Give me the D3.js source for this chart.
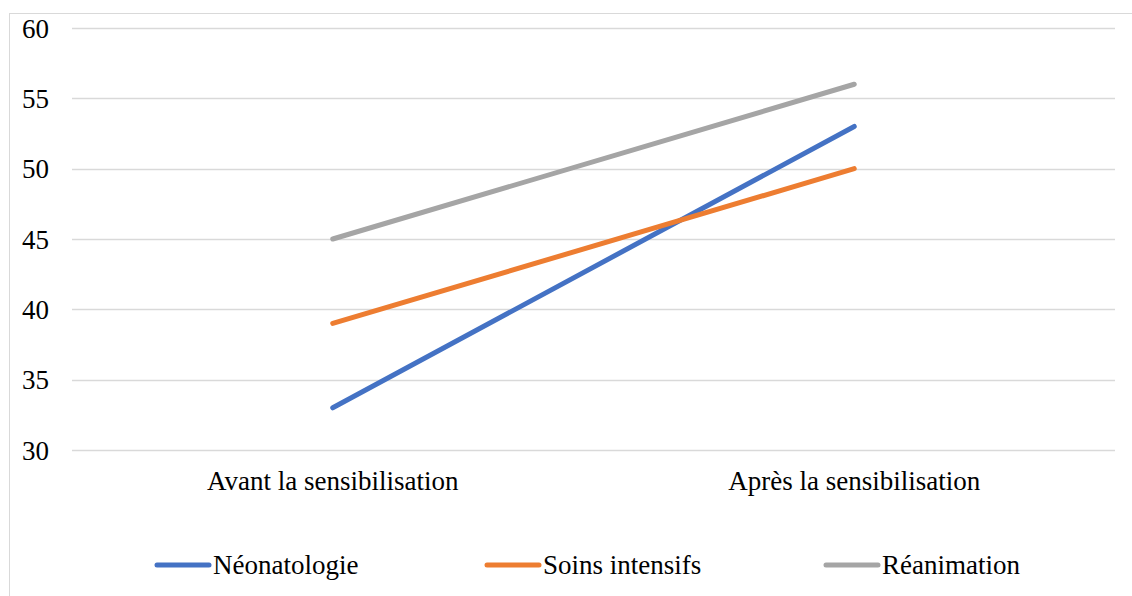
<!DOCTYPE html>
<html><head><meta charset="utf-8">
<script src="https://cdn.jsdelivr.net/npm/d3@7"></script>
<style>body{margin:0;background:#fff}svg{display:block}
svg text{font-family:"Liberation Serif","Times New Roman",serif;font-size:27px;fill:#000}</style>
</head><body>
<svg id="c" width="1132" height="596"></svg>
<script>
const categories = ["Avant la sensibilisation", "Après la sensibilisation"];
const seriesNames = ["Néonatologie", "Soins intensifs", "Réanimation"];
const neonatologie = [33, 53];
const soinsIntensifs = [39, 50];
const reanimation = [45, 56];
const yTicks = [30, 35, 40, 45, 50, 55, 60];
const colors = ["#4472C4", "#ED7D31", "#A5A5A5"];

const series = [neonatologie, soinsIntensifs, reanimation].map((v, i) => ({name: seriesNames[i], values: v, color: colors[i]}));

const svg = d3.select("#c");
svg.append("rect").attr("x", 9.5).attr("y", 13.5).attr("width", 1140).attr("height", 600)
  .attr("fill", "none").attr("stroke", "#d9d9d9").attr("stroke-width", 1);

const left = 72, right = 1115;
const x = d3.scaleBand().domain(categories).range([left, right]);
const y = d3.scaleLinear().domain([30, 60]).range([450, 28]);

const grid = svg.append("g");
grid.selectAll("line").data(yTicks).join("line")
  .attr("x1", left).attr("x2", right)
  .attr("y1", d => Math.round(y(d)) + 0.5).attr("y2", d => Math.round(y(d)) + 0.5)
  .attr("stroke", "#d9d9d9").attr("stroke-width", 1.5);

const yAxis = d3.axisLeft(y).tickValues(yTicks).tickSize(0).tickPadding(0);
const ya = svg.append("g").attr("transform", `translate(49,0)`).call(yAxis);
ya.select(".domain").remove();
ya.attr("font-family", null).attr("font-size", null);
ya.selectAll("text").attr("dy", "0.34em");

const xAxis = d3.axisBottom(x).tickSize(0).tickPadding(0);
const xa = svg.append("g").attr("transform", `translate(0,0)`).call(xAxis);
xa.select(".domain").remove();
xa.attr("font-family", null).attr("font-size", null);
xa.selectAll("text").attr("dy", null).attr("y", 490);

const line = d3.line().x((d, i) => x(categories[i]) + x.bandwidth() / 2).y(d => y(d));
svg.append("g").selectAll("path").data(series).join("path")
  .attr("d", d => line(d.values))
  .attr("fill", "none").attr("stroke", d => d.color).attr("stroke-width", 5)
  .attr("stroke-linecap", "round");

const legendX = [157, 487, 826];
const lg = svg.append("g").selectAll("g").data(series).join("g")
  .attr("transform", (d, i) => `translate(${legendX[i]},565)`);
lg.append("line").attr("x1", 0).attr("x2", 52).attr("y1", 0).attr("y2", 0)
  .attr("stroke", d => d.color).attr("stroke-width", 5).attr("stroke-linecap", "round");
lg.append("text").attr("x", 56).attr("y", 9).text(d => d.name);
</script>
</body></html>
